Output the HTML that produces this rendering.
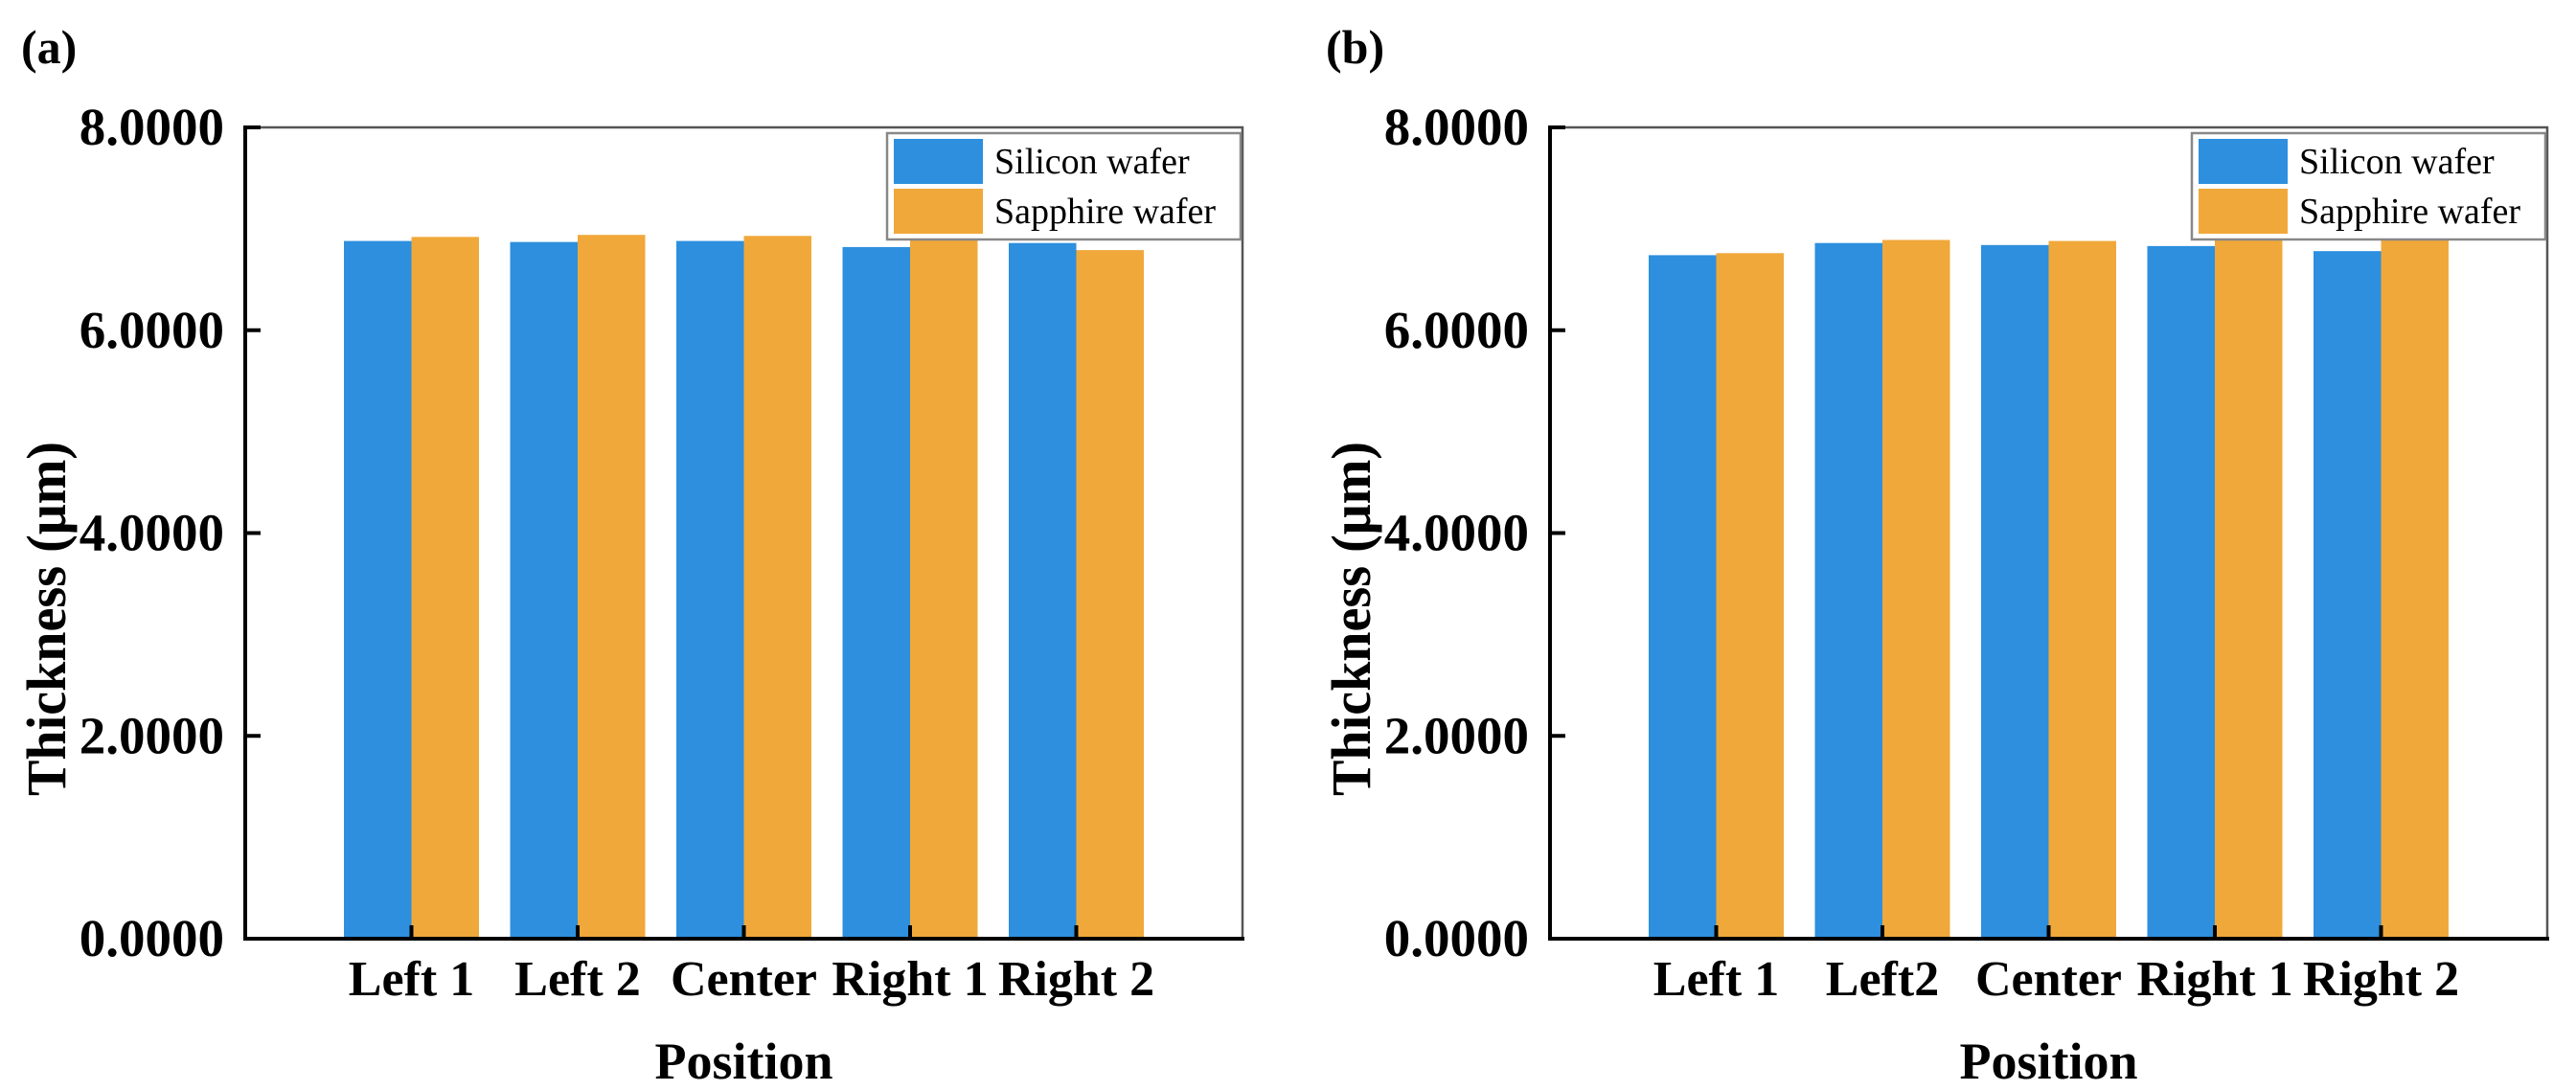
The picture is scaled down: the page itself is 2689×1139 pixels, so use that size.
<!DOCTYPE html>
<html><head><meta charset="utf-8"><style>
html,body{margin:0;padding:0;background:#fff;}
svg{display:block;font-family:"Liberation Serif","Times New Roman",serif;}
</style></head><body>
<svg id="chart" width="2689" height="1139" viewBox="0 0 2689 1139" xmlns="http://www.w3.org/2000/svg"></svg>
<script>
const categoriesA = ["Left 1","Left 2","Center","Right 1","Right 2"];
const categoriesB = ["Left 1","Left2","Center","Right 1","Right 2"];
const siliconA = [6.88,6.87,6.88,6.82,6.86];
const sapphireA = [6.92,6.94,6.93,6.89,6.79];
const siliconB = [6.74,6.86,6.84,6.83,6.78];
const sapphireB = [6.76,6.89,6.88,6.91,6.92];
const yTicks = [0,2,4,6,8];
const yTickLabels = ["0.0000","2.0000","4.0000","6.0000","8.0000"];
const seriesNames = ["Silicon wafer","Sapphire wafer"];
const colors = ["#2d8fde","#f0a83a"];

const NS = "http://www.w3.org/2000/svg";
const svg = document.getElementById("chart");
function mk(tag, attrs, parent, text){
  const e = document.createElementNS(NS, tag);
  for (const k in attrs) e.setAttribute(k, attrs[k]);
  if (text !== undefined) e.textContent = text;
  (parent||svg).appendChild(e);
  return e;
}

function panel(ox, label, cats, s1, s2, id){
  const g = mk("g", {});
  
  
  const L = ox + 256, R = ox + 1297, T = 133, B = 980;
  const yScale = v => B - (v / 8) * (B - T);
  const xScale = i => L + (i + 1) * (R - L) / 6;
  const bw = 70.5;

  const pl = mk("text", {x: ox + 22, y: 66, "font-size": 50, "font-weight": "bold"}, g, label);
  
  

  [s1, s2].forEach((s, si) => {
    s.forEach((v, i) => {
      const x = xScale(i) + (si === 0 ? -bw : 0);
      const r = mk("rect", {x: x, y: yScale(v), width: bw, height: B - yScale(v), fill: colors[si]}, g);
      
      
    });
  });

  const fr = mk("path", {d: `M${L} ${T} H${R} V${B}`, stroke: "#555", "stroke-width": 2.5, fill: "none"}, g);
  
  
  const ya = mk("line", {x1: L, y1: T - 2, x2: L, y2: B + 2, stroke: "#000", "stroke-width": 4}, g);
  
  
  const xa = mk("line", {x1: L - 2, y1: B, x2: R + 2, y2: B, stroke: "#000", "stroke-width": 4}, g);
  
  

  yTicks.forEach((t, i) => {
    const y = yScale(t);
    mk("line", {x1: L, y1: y, x2: L + 16, y2: y, stroke: "#000", "stroke-width": 4}, g);
    const tl = mk("text", {x: L - 22, y: y + 18, "font-size": 55, "font-weight": "bold", "text-anchor": "end"}, g, yTickLabels[i]);
    
    
  });
  cats.forEach((c, i) => {
    const x = xScale(i);
    mk("line", {x1: x, y1: B, x2: x, y2: B - 14, stroke: "#000", "stroke-width": 4}, g);
    const tl = mk("text", {x: x, y: 1039, "font-size": 52, "font-weight": "bold", "text-anchor": "middle"}, g, c);
    
    
  });

  const yt = mk("text", {x: 0, y: 0, "font-size": 58, "font-weight": "bold", "text-anchor": "middle",
    textLength: 370, lengthAdjust: "spacingAndGlyphs",
    transform: `translate(${ox + 68},${646}) rotate(-90)`}, g, "Thickness (μm)");
  
  
  const xt = mk("text", {x: (L + R) / 2, y: 1126, "font-size": 54, "font-weight": "bold", "text-anchor": "middle"}, g, "Position");
  
  

  const lg = mk("g", {}, g);
  
  
  mk("rect", {x: ox + 926, y: 139, width: 369, height: 111, fill: "#fff", stroke: "#888", "stroke-width": 2.5}, lg);
  seriesNames.forEach((n, i) => {
    const e = mk("g", {}, lg);
    
    
    mk("rect", {x: ox + 933, y: 145 + i * 52, width: 93, height: 47, fill: colors[i]}, e);
    mk("text", {x: ox + 1038, y: 181 + i * 52, "font-size": 38}, e, n);
  });
}
panel(0, "(a)", categoriesA, siliconA, sapphireA, "a");
panel(1362, "(b)", categoriesB, siliconB, sapphireB, "b");
</script>
</body></html>
